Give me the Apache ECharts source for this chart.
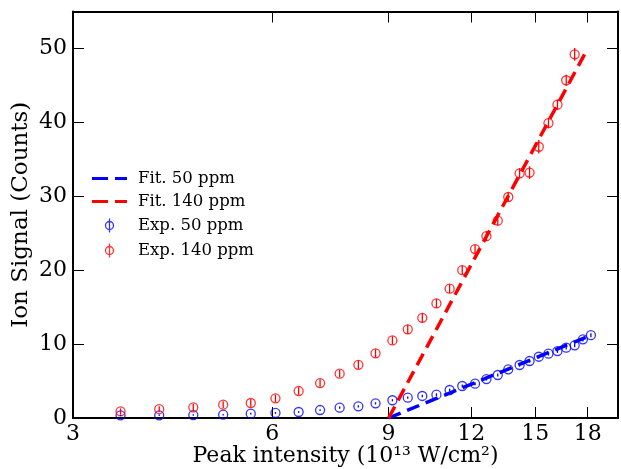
<!DOCTYPE html>
<html>
<head>
<meta charset="utf-8">
<script src="https://cdn.jsdelivr.net/npm/echarts@6/dist/echarts.min.js"></script>
<style>
html,body{margin:0;padding:0;background:#fff;}
#chart{width:621px;height:469px;}
</style>
</head>
<body>
<div id="chart"></div>
<script>
// Peak intensity (10^13 W/cm^2)
const intensity = [3.54,4.05,4.56,5.06,5.57,6.07,6.58,7.09,7.59,8.10,8.60,9.12,9.62,10.12,10.63,11.13,11.63,12.16,12.65,13.16,13.65,14.20,14.70,15.18,15.70,16.20,16.70,17.20,17.70,18.20];
// Experimental ion signal, 50 ppm
const exp50 = [0.36,0.36,0.40,0.45,0.58,0.68,0.81,1.08,1.40,1.58,1.98,2.40,2.75,2.98,3.16,3.79,4.33,4.64,5.27,5.82,6.58,7.17,7.71,8.29,8.70,9.06,9.51,9.83,10.64,11.20];
const err50 = [0.10,0.10,0.10,0.10,0.12,0.12,0.12,0.12,0.15,0.15,0.15,0.15,0.15,0.18,0.18,0.18,0.2,0.2,0.2,0.2,0.22,0.22,0.22,0.25,0.25,0.25,0.25,0.25,0.28,0.28];
// Experimental ion signal, 140 ppm
const exp140 = [0.90,1.20,1.45,1.80,2.03,2.66,3.65,4.73,6.00,7.20,8.75,10.50,12.00,13.56,15.50,17.50,20.00,22.86,24.60,26.70,29.90,33.10,33.20,36.70,39.90,42.40,45.70,49.20];
const err140 = [0.40,0.40,0.45,0.45,0.50,0.50,0.50,0.50,0.50,0.55,0.55,0.55,0.60,0.60,0.60,0.60,0.60,0.60,0.65,0.65,0.65,0.70,0.85,0.90,0.70,0.70,0.75,0.85];
// Fits
const fit50X = [9, 18.2];
const fit50Y = [0, 11.2];
const fit140X = [9, 18];
const fit140Y = [0, 50];
// Axis ticks
const xTicks = [3, 6, 9, 12, 15, 18];
const yTicks = [0, 10, 20, 30, 40, 50];

const BLUE = '#0000ff', RED = '#ff0000';
const FONT = 'DejaVu Serif';

function pts(xs, ys) { return ys.map((y, i) => [xs[i], y]); }
function ptsErr(xs, ys, es) { return ys.map((y, i) => [xs[i], y, es[i]]); }

function errSeries(name, data, color) {
  return {
    name: name, type: 'custom', z: 5,
    data: data,
    renderItem: function (params, api) {
      const x = api.value(0), y = api.value(1), e = api.value(2);
      const p1 = api.coord([x, y - e]);
      const p2 = api.coord([x, y + e]);
      return { type: 'line', shape: { x1: p1[0], y1: p1[1], x2: p2[0], y2: p2[1] },
               style: { stroke: color, lineWidth: 1.3 } };
    }
  };
}

const dashIcon = 'path://M0,0h16v3h-16z M23,0h12v3h-12z';
const errIcon = 'path://M5,0L5,14 M9,7A4,4 0 1 1 1,7A4,4 0 1 1 9,7';

const xCommon = {
  type: 'log', logBase: 10, min: 3, max: 20,
  axisLine: { show: true, onZero: false, lineStyle: { color: '#000', width: 2 } },
  axisTick: { show: true, inside: true, length: 11, customValues: xTicks, lineStyle: { color: '#000', width: 1 } },
  minorTick: { show: false },
  splitLine: { show: false },
};
const yCommon = {
  type: 'value', min: 0, max: 55, interval: 10,
  axisLine: { show: true, onZero: false, lineStyle: { color: '#000', width: 2 } },
  axisTick: { show: true, inside: true, length: 11, customValues: yTicks, lineStyle: { color: '#000', width: 1 } },
  splitLine: { show: false },
};

const option = {
  animation: false,
  backgroundColor: '#fff',
  grid: { left: 73, right: 3, top: 11.5, bottom: 51, containLabel: false, outerBoundsMode: 'none' },
  xAxis: [
    Object.assign({}, xCommon, {
      position: 'bottom',
      name: 'Peak intensity (10¹³ W/cm²)',
      nameLocation: 'middle', nameGap: 27, nameMoveOverlap: false,
      nameTextStyle: { fontFamily: FONT, fontSize: 22, color: '#000' },
      axisLabel: { show: true, customValues: xTicks, margin: 5, fontFamily: FONT, fontSize: 22, color: '#000',
                   formatter: v => String(Math.round(v)) }
    }),
    Object.assign({}, xCommon, { position: 'top', axisLabel: { show: false } })
  ],
  yAxis: [
    Object.assign({}, yCommon, {
      position: 'left',
      name: 'Ion Signal (Counts)',
      nameLocation: 'middle', nameGap: 40, nameMoveOverlap: false,
      nameTextStyle: { fontFamily: FONT, fontSize: 23, color: '#000' },
      axisLabel: { show: true, customValues: yTicks, margin: 6, fontFamily: FONT, fontSize: 22, color: '#000' }
    }),
    Object.assign({}, yCommon, { position: 'right', axisLabel: { show: false } })
  ],
  legend: {
    orient: 'vertical', left: 87, top: 165,
    itemWidth: 35, itemHeight: 14, itemGap: 6,
    symbolKeepAspect: true,
    textStyle: { fontFamily: FONT, fontSize: 16.5, color: '#000', padding: [0, 0, 0, 6] },
    data: [
      { name: 'Fit. 50 ppm', icon: dashIcon, itemStyle: { color: BLUE, borderWidth: 0 } },
      { name: 'Fit. 140 ppm', icon: dashIcon, itemStyle: { color: RED, borderWidth: 0 } },
      { name: 'Exp. 50 ppm', icon: errIcon, itemStyle: { color: 'none', borderColor: BLUE, borderWidth: 1.3 } },
      { name: 'Exp. 140 ppm', icon: errIcon, itemStyle: { color: 'none', borderColor: RED, borderWidth: 1.3 } }
    ]
  },
  series: [
    { name: 'Fit. 50 ppm', type: 'line', z: 3, symbol: 'none', data: pts(fit50X, fit50Y),
      lineStyle: { color: BLUE, width: 3.5, type: [13, 7] }, itemStyle: { color: BLUE } },
    { name: 'Fit. 140 ppm', type: 'line', z: 3, symbol: 'none', data: pts(fit140X, fit140Y),
      lineStyle: { color: RED, width: 3.5, type: [13, 7] }, itemStyle: { color: RED } },
    { name: 'Exp. 50 ppm', type: 'scatter', z: 4, symbol: 'circle', symbolSize: 9, data: pts(intensity, exp50),
      itemStyle: { color: 'rgba(0,0,0,0)', borderColor: BLUE, borderWidth: 1.3 } },
    { name: 'Exp. 140 ppm', type: 'scatter', z: 4, symbol: 'circle', symbolSize: 9, data: pts(intensity, exp140),
      itemStyle: { color: 'rgba(0,0,0,0)', borderColor: RED, borderWidth: 1.3 } },
    errSeries('err50', ptsErr(intensity, exp50, err50), BLUE),
    errSeries('err140', ptsErr(intensity, exp140, err140), RED)
  ]
};

const chart = echarts.init(document.getElementById('chart'), null, { renderer: 'canvas' });
chart.setOption(option);
</script>
</body>
</html>
